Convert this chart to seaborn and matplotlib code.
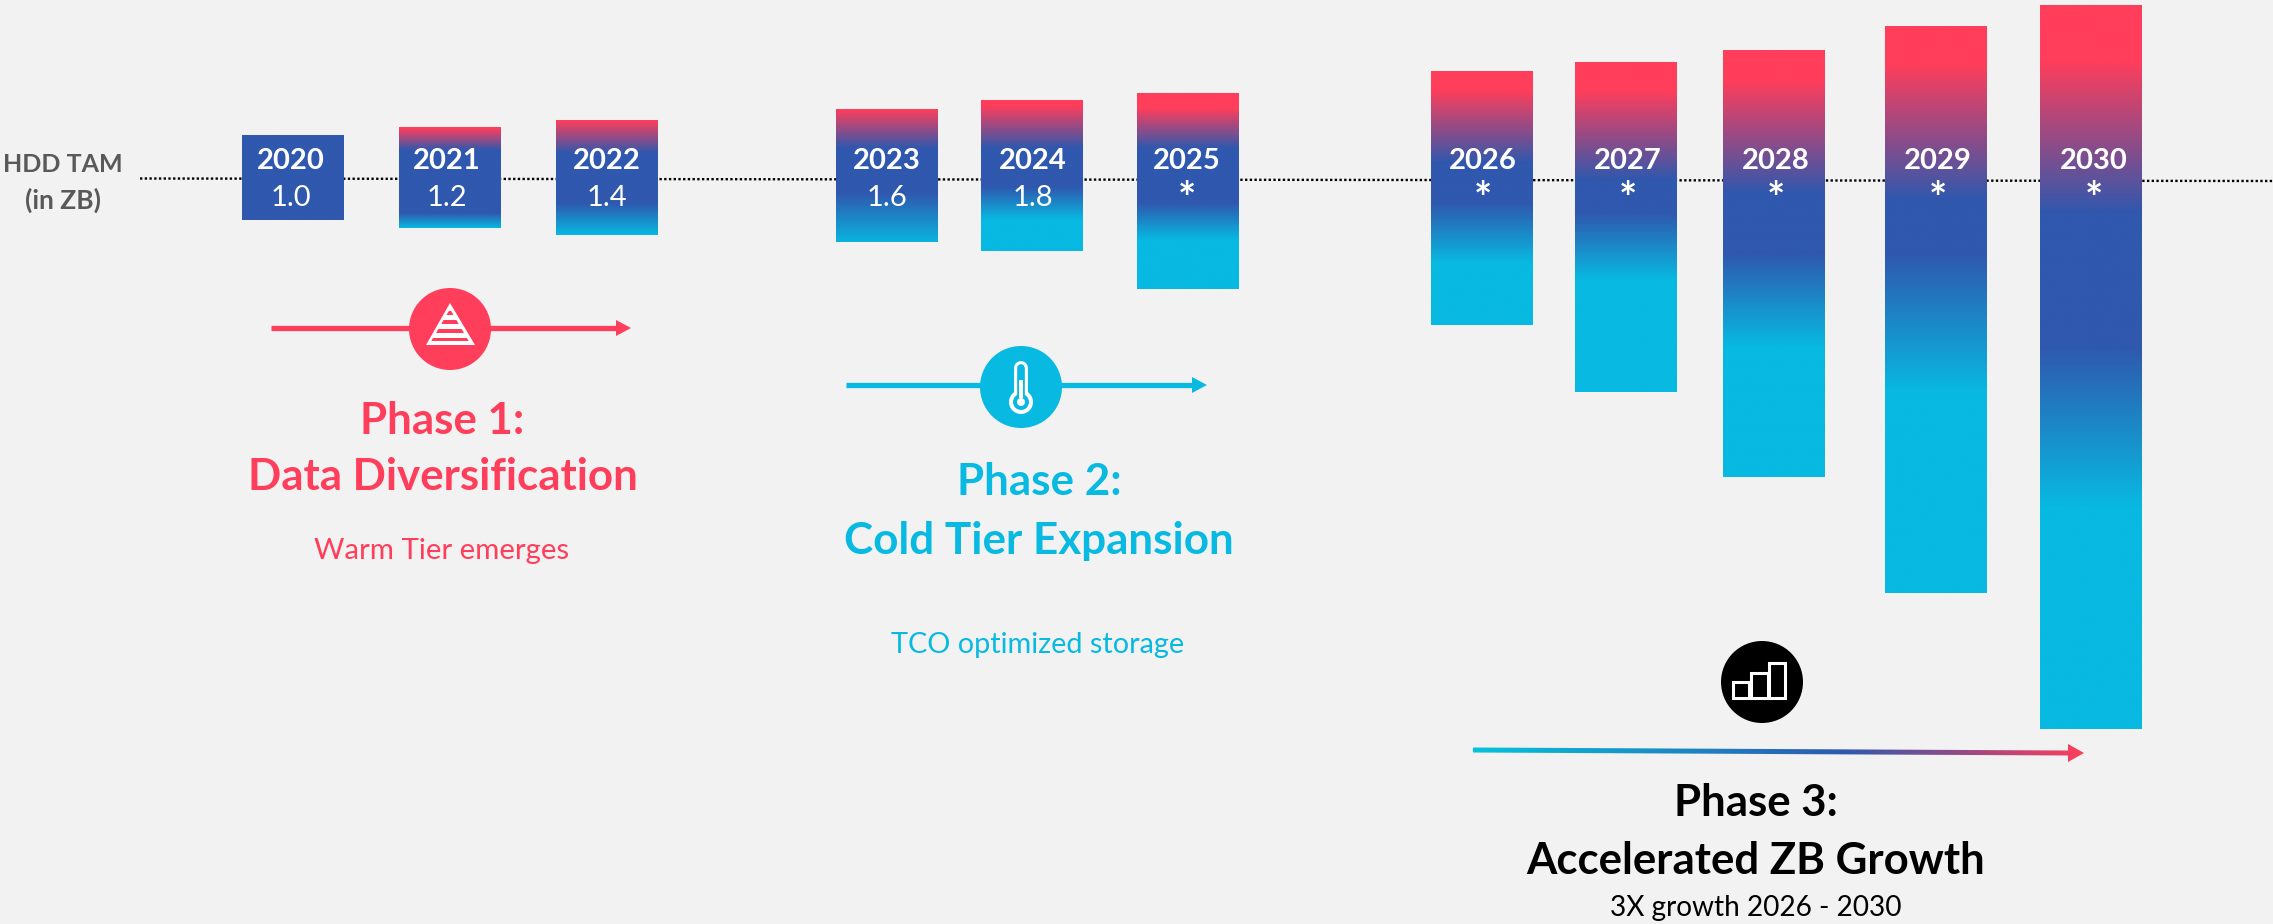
import numpy as np
import pandas as pd
import seaborn as sns
from matplotlib import pyplot as plt
from matplotlib.colors import to_rgb
from matplotlib.patches import Circle, Rectangle

W, H = 2273, 924
LINE_Y = 179  # pixel row of the dotted line
UNIT = 100  # pixels per unit of the bar scale

years = ['2020', '2021', '2022', '2023', '2024', '2025', '2026', '2027', '2028', '2029', '2030']
tam_labels = ['1.0', '1.2', '1.4', '1.6', '1.8', '*', '*', '*', '*', '*', '*']
# bar extent above and below the dotted line
span_above = [0.44, 0.52, 0.59, 0.70, 0.79, 0.86, 1.08, 1.17, 1.29, 1.53, 1.74]
span_below = [0.41, 0.49, 0.56, 0.63, 0.72, 1.10, 1.46, 2.13, 2.98, 4.14, 5.50]

bar_centers = [293, 450, 607, 887, 1032, 1187.5, 1482, 1626, 1774, 1936, 2091]
label_centers = [291, 447, 607, 887, 1033, 1187, 1483, 1628, 1776, 1938, 2094]
BAR_WIDTH = 102

# pixel rows: red ends, blue starts, blue ends, cyan starts
grad_stops = [
    (100, 110, 250, 260),
    (128, 150, 213, 228),
    (120, 153, 203, 235),
    (109, 148, 193, 245),
    (105, 148, 187, 220),
    (108, 148, 203, 240),
    (90, 163, 203, 263),
    (90, 180, 213, 280),
    (80, 193, 253, 347),
    (63, 200, 253, 393),
    (60, 213, 347, 507),
]

RED = '#FF3E5B'
BLUE = '#2F58AE'
CYAN = '#08B9E2'
BG = '#F2F2F2'


def bar_gradient(rows, stops):
    cols = [to_rgb(RED), to_rgb(BLUE), to_rgb(BLUE), to_rgb(CYAN)]
    return np.stack([np.interp(rows, stops, [c[i] for c in cols]) for i in range(3)], axis=1)


def arrow(a, x0, x1, y, color):
    a.plot([x0, x1 - 14], [y, y], color=color, lw=3.8, solid_capstyle='butt', zorder=2)
    a.fill([x1 - 15, x1, x1 - 15], [y - 8, y, y + 8], color=color, lw=0, zorder=2)


if __name__ == '__main__':
    sns.set_theme(style='white')
    plt.rcParams['font.family'] = ['Lato', 'DejaVu Sans']

    df = pd.DataFrame({
        'center': bar_centers,
        'height': np.array(span_above) + np.array(span_below),
    })
    bottoms = -np.array(span_below)

    fig = plt.figure(figsize=(W / 100, H / 100), dpi=100, facecolor=BG)
    ax = fig.add_axes([0, 0, 1, 1], facecolor=BG)

    # dotted line sits behind the bars
    ax.plot([140, W], [0.005, -0.02], color='black', lw=1.7, ls=(0, (1, 1)), zorder=1)

    min_gap = np.min(np.diff(bar_centers))
    sns.barplot(data=df, x='center', y='height', native_scale=True, width=BAR_WIDTH / min_gap,
                errorbar=None, color=BLUE, bottom=bottoms, ax=ax, zorder=2)

    for patch, stops in zip(ax.patches, grad_stops):
        x0, b, w, h = patch.get_x(), patch.get_y(), patch.get_width(), patch.get_height()
        top_px = LINE_Y - (b + h) * UNIT
        bottom_px = LINE_Y - b * UNIT
        rows = np.linspace(top_px, bottom_px, 400)
        img = bar_gradient(rows, stops)[:, None, :]
        ax.imshow(img, extent=(x0, x0 + w, b, b + h), aspect='auto', origin='upper',
                  interpolation='bilinear', zorder=3)
        patch.set_visible(False)

    ax.set_xlim(0, W)
    ax.set_ylim(-(H - LINE_Y) / UNIT, LINE_Y / UNIT)
    ax.axis('off')

    # everything else is placed in pixel coordinates
    ov = fig.add_axes([0, 0, 1, 1], facecolor='none')
    ov.set_xlim(0, W)
    ov.set_ylim(H, 0)
    ov.axis('off')

    for x, year, val in zip(label_centers, years, tam_labels):
        ov.text(x, 161, year, color='white', fontsize=21, fontweight='bold', ha='center', va='center', zorder=5)
        if val == '*':
            ov.text(x, 200, val, color='white', fontsize=31, fontweight='bold', ha='center', va='center', zorder=5)
        else:
            ov.text(x, 198, val, color='white', fontsize=21, ha='center', va='center', zorder=5)

    ov.text(63, 165, 'HDD TAM', color='#595959', fontsize=18, fontweight='bold', ha='center', va='center')
    ov.text(63, 200, '(in ZB)', color='#595959', fontsize=19, fontweight='bold', ha='center', va='center')

    # phase 1
    arrow(ov, 271, 631, 328, RED)
    ov.add_patch(Circle((450, 329), 41, color=RED, lw=0, zorder=3))
    ov.fill([450, 475, 426], [303, 345, 345], color='white', lw=0, zorder=4)
    for y0, y1 in [(311, 315), (320, 324), (329, 333), (338, 341)]:
        hw0 = (y0 - 303) / 42 * 24.5 - 3.5
        hw1 = (y1 - 303) / 42 * 24.5 - 3.5
        ov.fill([450 - hw0, 450 + hw0, 450 + hw1, 450 - hw1], [y0, y0, y1, y1], color=RED, lw=0, zorder=5)
    ov.text(442, 421, 'Phase 1:', color=RED, fontsize=31.6, fontweight='bold', ha='center', va='center')
    ov.text(443, 477, 'Data Diversification', color=RED, fontsize=31.6, fontweight='bold', ha='center', va='center')
    ov.text(442, 551, 'Warm Tier emerges', color=RED, fontsize=21.2, ha='center', va='center')

    # phase 2
    arrow(ov, 846, 1207, 385, CYAN)
    ov.add_patch(Circle((1021, 387), 41, color=CYAN, lw=0, zorder=3))
    ov.plot([1021, 1021], [368, 400], color='white', lw=10, solid_capstyle='round', zorder=4)
    ov.plot([1021, 1021], [368, 400], color=CYAN, lw=5.5, solid_capstyle='round', zorder=5)
    ov.add_patch(Circle((1021, 402), 12, color='white', lw=0, zorder=4))
    ov.add_patch(Circle((1021, 402), 8, color=CYAN, lw=0, zorder=5))
    ov.add_patch(Circle((1021, 402), 4, color='white', lw=0, zorder=6))
    ov.add_patch(Rectangle((1019, 380), 4, 18, color='white', lw=0, zorder=6))
    ov.text(1039, 482, 'Phase 2:', color=CYAN, fontsize=31.7, fontweight='bold', ha='center', va='center')
    ov.text(1039, 541, 'Cold Tier Expansion', color=CYAN, fontsize=31.7, fontweight='bold', ha='center', va='center')
    ov.text(1038, 645, 'TCO optimized storage', color=CYAN, fontsize=20.8, ha='center', va='center')

    # phase 3
    ov.add_patch(Circle((1762, 682), 41, color='black', lw=0, zorder=3))
    for x0, x1, y0 in [(1733, 1749, 682), (1751, 1768, 673), (1769, 1785, 663)]:
        ov.add_patch(Rectangle((x0, y0), x1 - x0, 698 - y0, fill=False, ec='white', lw=2.2, zorder=4))

    cols = np.array([to_rgb('#05C3DC'), to_rgb(BLUE), to_rgb(RED)])
    tt = np.linspace(1473, 2084, 600)
    grad = np.stack([np.interp(tt, [1473, 1844, 2084], cols[:, i]) for i in range(3)], axis=1)[None, :, :]
    im = ov.imshow(grad, extent=(1473, 2084, 770, 735), aspect='auto', interpolation='bilinear', zorder=2)
    clip = ov.fill([1473, 2068, 2068, 2084, 2068, 2068, 1473],
                   [747.5, 750.5, 744, 753, 762, 755.5, 752.5], color='none', lw=0)[0]
    im.set_clip_path(clip)
    ov.set_xlim(0, W)
    ov.set_ylim(H, 0)
    ov.text(1756, 803, 'Phase 3:', color='black', fontsize=31.5, fontweight='bold', ha='center', va='center')
    ov.text(1756, 861, 'Accelerated ZB Growth', color='black', fontsize=31.5, fontweight='bold', ha='center', va='center')
    ov.text(1756, 908, '3X growth 2026 - 2030', color='black', fontsize=20.2, ha='center', va='center')

    fig.savefig('out.png', dpi=100, facecolor=BG)
